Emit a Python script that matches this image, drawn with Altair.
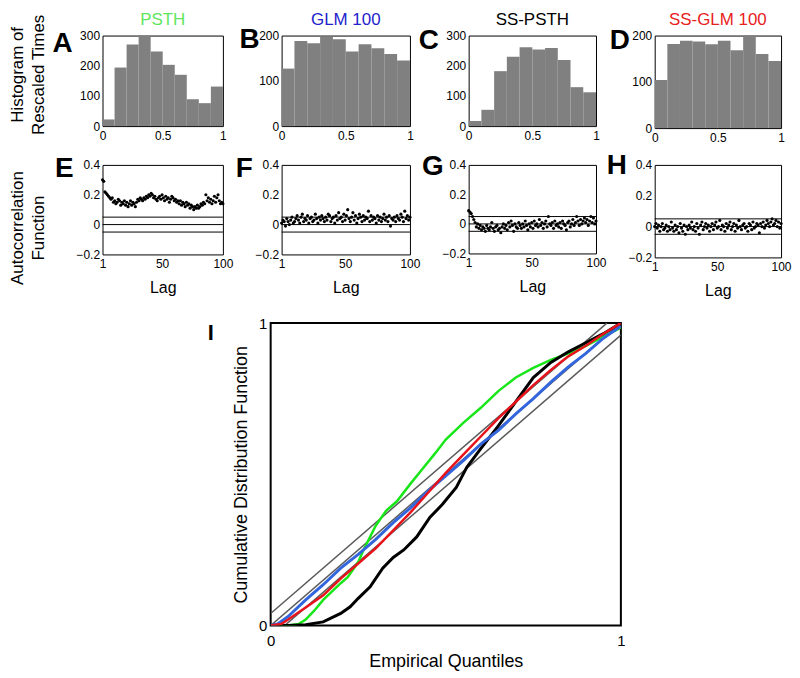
import altair as alt
import pandas as pd

FONT = "Liberation Sans"

# ---------------- data ----------------
bin_start = [0.0, 0.1, 0.2, 0.3, 0.4, 0.5, 0.6, 0.7, 0.8, 0.9]
bin_end = [0.1, 0.2, 0.3, 0.4, 0.5, 0.6, 0.7, 0.8, 0.9, 1.0]
hist_psth = [22, 194, 270, 300, 247, 203, 170, 89, 76, 131]
hist_glm100 = [127, 188, 183, 197, 192, 165, 181, 172, 159, 145]
hist_ss_psth = [17, 54, 182, 230, 261, 254, 259, 219, 129, 112]
hist_ss_glm100 = [104, 182, 189, 187, 181, 189, 168, 200, 160, 145]

lags = list(range(1, 101))
acf_psth = [0.30, 0.29, 0.22, 0.21, 0.20, 0.19, 0.18, 0.17, 0.18, 0.15,
            0.16, 0.14, 0.15, 0.17, 0.16, 0.13, 0.15, 0.14, 0.16, 0.13,
            0.15, 0.12, 0.14, 0.16, 0.13, 0.15, 0.14, 0.12, 0.15, 0.17,
            0.16, 0.18, 0.17, 0.16, 0.18, 0.17, 0.19, 0.18, 0.20, 0.19,
            0.21, 0.20, 0.18, 0.19, 0.17, 0.16, 0.18, 0.19, 0.17, 0.20,
            0.18, 0.16, 0.19, 0.17, 0.18, 0.15, 0.17, 0.19, 0.18, 0.16,
            0.17, 0.15, 0.16, 0.14, 0.16, 0.13, 0.15, 0.14, 0.12, 0.15,
            0.13, 0.14, 0.11, 0.13, 0.12, 0.10, 0.12, 0.11, 0.13, 0.11,
            0.12, 0.14, 0.13, 0.15, 0.14, 0.20, 0.16, 0.18, 0.15, 0.17,
            0.14, 0.16, 0.19, 0.15, 0.18, 0.20, 0.16, 0.14, 0.15, 0.14]
acf_glm100 = [0.01, 0.03, 0.02, -0.01, 0.04, 0.02, 0.00, 0.03, 0.05, 0.01,
              0.02, 0.04, 0.06, 0.03, 0.01, 0.05, 0.07, 0.02, 0.04, 0.03,
              0.06, 0.01, 0.04, 0.05, 0.02, 0.03, 0.07, 0.04, 0.01, 0.05,
              0.03, 0.06, 0.04, 0.02, 0.05, 0.03, 0.07, 0.06, 0.02, 0.04,
              0.05, 0.01, 0.06, 0.03, 0.08, 0.04, 0.05, 0.02, 0.07, 0.03,
              0.06, 0.10, 0.04, 0.02, 0.05, 0.08, 0.03, 0.06, 0.01, 0.04,
              0.07, 0.05, 0.02, 0.06, 0.03, 0.05, 0.04, 0.09, 0.02, 0.06,
              0.03, 0.05, 0.04, 0.01, 0.06, 0.03, 0.05, 0.02, 0.04, 0.07,
              0.03, 0.05, 0.02, 0.06, -0.01, 0.04, 0.03, 0.05, 0.02, 0.06,
              0.04, 0.03, 0.07, 0.05, 0.02, 0.09, 0.04, 0.06, 0.03, 0.05]
acf_ss_psth = [0.09, 0.08, 0.07, 0.05, 0.03, 0.01, -0.02, 0.00, -0.03, -0.01,
               -0.04, -0.02, -0.03, -0.05, -0.01, -0.03, -0.04, -0.02, 0.01, -0.03,
               -0.05, -0.02, -0.01, -0.04, -0.03, -0.06, -0.02, 0.00, -0.03, -0.01,
               -0.04, 0.01, -0.02, 0.02, -0.01, -0.05, 0.00, -0.02, -0.03, 0.01,
               -0.01, -0.03, 0.00, -0.02, 0.02, -0.01, -0.04, 0.00, -0.02, 0.01,
               -0.03, 0.02, -0.01, 0.00, -0.02, 0.03, -0.01, 0.01, -0.03, 0.00,
               0.02, -0.02, 0.05, 0.00, -0.01, 0.01, -0.03, 0.02, -0.01, 0.00,
               -0.02, 0.01, -0.03, 0.02, 0.00, -0.01, -0.04, 0.01, 0.02, -0.02,
               0.00, 0.03, -0.01, 0.01, 0.05, 0.02, -0.01, 0.03, 0.00, 0.02,
               0.04, 0.01, 0.03, -0.01, 0.02, 0.05, 0.01, 0.04, 0.00, 0.02]
acf_ss_glm100 = [0.00, 0.02, -0.01, 0.01, -0.03, 0.00, 0.02, -0.02, -0.01, 0.01,
                 -0.03, 0.00, -0.02, 0.03, -0.01, -0.03, 0.01, -0.02, 0.00, -0.04,
                 0.02, -0.01, -0.03, 0.01, -0.05, 0.00, -0.02, 0.01, -0.01, 0.03,
                 -0.02, 0.00, -0.03, 0.02, -0.01, -0.05, 0.01, 0.03, -0.02, 0.00,
                 0.02, -0.01, 0.01, -0.03, 0.00, 0.02, -0.02, 0.01, 0.03, -0.01,
                 0.00, 0.04, -0.02, 0.01, 0.00, -0.03, 0.02, -0.01, 0.01, 0.03,
                 -0.02, 0.00, 0.02, -0.03, 0.01, -0.01, 0.04, 0.00, -0.02, 0.01,
                 0.02, -0.01, 0.00, -0.03, 0.02, 0.01, -0.02, 0.03, -0.01, 0.00,
                 0.02, 0.01, -0.04, 0.02, 0.00, 0.03, -0.01, 0.01, 0.04, 0.02,
                 0.00, 0.03, 0.05, 0.01, 0.02, 0.04, 0.00, 0.03, -0.01, 0.02]
acf_bounds = [-0.05, 0.0, 0.05]

# KS plot: 95% bands and the four models
band_upper_x = [0.0, 0.96]
band_upper_y = [0.04, 1.0]
band_diag_x = [0.0, 1.0]
band_diag_y = [0.0, 1.0]
band_lower_x = [0.04, 1.0]
band_lower_y = [0.0, 0.96]

ks_x_psth = [0, 0.05, 0.08, 0.1, 0.125, 0.15, 0.2, 0.22, 0.25, 0.265, 0.3, 0.33, 0.36, 0.4,
             0.435, 0.47, 0.5, 0.55, 0.6, 0.65, 0.7, 0.75, 0.8, 0.85, 0.9, 0.95, 1.0]
ks_y_psth = [0, 0.0, 0.005, 0.02, 0.05, 0.085, 0.14, 0.16, 0.21, 0.25, 0.33, 0.38, 0.41, 0.47,
             0.52, 0.57, 0.615, 0.67, 0.72, 0.775, 0.82, 0.852, 0.878, 0.90, 0.925, 0.955, 0.985]
ks_x_ss_psth = [0, 0.05, 0.1, 0.15, 0.2, 0.227, 0.25, 0.284, 0.32, 0.35, 0.38, 0.417, 0.455,
                0.49, 0.53, 0.56, 0.6, 0.65, 0.7, 0.75, 0.8, 0.85, 0.9, 0.95, 1.0]
ks_y_ss_psth = [0, 0.0, 0.003, 0.012, 0.04, 0.062, 0.09, 0.128, 0.19, 0.225, 0.25, 0.293, 0.358,
                0.40, 0.457, 0.523, 0.585, 0.66, 0.74, 0.82, 0.87, 0.905, 0.935, 0.965, 1.0]
ks_x_glm100 = [0, 0.02, 0.05, 0.1, 0.15, 0.2, 0.25, 0.3, 0.35, 0.4, 0.45, 0.5, 0.55, 0.6,
               0.65, 0.7, 0.75, 0.8, 0.85, 0.9, 0.95, 1.0]
ks_y_glm100 = [0, 0.005, 0.03, 0.085, 0.135, 0.19, 0.235, 0.285, 0.34, 0.39, 0.445, 0.495,
               0.545, 0.6, 0.645, 0.70, 0.75, 0.805, 0.855, 0.9, 0.95, 0.99]
ks_x_ss_glm100 = [0, 0.03, 0.05, 0.1, 0.15, 0.2, 0.25, 0.3, 0.35, 0.4, 0.45, 0.5, 0.55, 0.6,
                  0.65, 0.7, 0.75, 0.8, 0.85, 0.9, 0.95, 1.0]
ks_y_ss_glm100 = [0, 0.005, 0.02, 0.06, 0.10, 0.155, 0.205, 0.255, 0.315, 0.375, 0.44, 0.505,
                  0.565, 0.625, 0.685, 0.74, 0.795, 0.845, 0.89, 0.925, 0.965, 1.0]

# ---------------- styles ----------------
GRAY = "#808080"
C_GREEN_T = "#5EE65E"
C_BLUE_T = "#2222CC"
C_RED_T = "#E82020"
C_GREEN = "#19E619"
C_BLUE = "#3366DD"
C_RED = "#E8141C"


def axis(**kw):
    base = dict(ticks=False, domain=False, grid=False, labelFont=FONT, labelColor="black",
                titleFont=FONT, titleColor="black", titleFontWeight="normal", labelFlush=False)
    base.update(kw)
    return alt.Axis(**base)


def text_layer(label, lx, ly, size, weight="bold", align="right", color="black"):
    return alt.Chart(pd.DataFrame({"t": [label]})).mark_text(
        font=FONT, fontSize=size, fontWeight=weight, align=align, baseline="alphabetic",
        color=color).encode(text="t:N", x=alt.value(lx), y=alt.value(ly))


def hist_panel(counts, ymax, yvals, title, tcolor, letter, lx, ly, w, h, ytitle=None):
    df = pd.DataFrame({"start": bin_start, "end": bin_end, "count": counts})
    ykw = dict(values=yvals, format="d", labelFontSize=12, labelPadding=3)
    if ytitle:
        ykw.update(titleFontSize=17, titleX=-76, titleY=39, titleAngle=270, titleAlign="center",
                   titleBaseline="bottom", titleLineHeight=21)
    bars = alt.Chart(df).mark_rect(color=GRAY).encode(
        x=alt.X("start:Q", scale=alt.Scale(domain=[0, 1], nice=False, zero=False),
                axis=axis(values=[0, 0.5, 1], format="~g", labelFontSize=12, labelPadding=4),
                title=None),
        x2="end:Q",
        y=alt.Y("count:Q", scale=alt.Scale(domain=[0, ymax], nice=False),
                axis=axis(**ykw), title=ytitle),
        y2=alt.datum(0),
    )
    return alt.layer(
        bars,
        text_layer(letter, lx, ly, 28),
        text_layer(title, w / 2, -11, 17, weight="normal", align="center", color=tcolor),
    ).properties(width=w, height=h)


def acf_panel(values, letter, lx, ly, w, h, ytitle=None):
    ykw = dict(values=[-0.2, 0, 0.2, 0.4], format="~g", labelFontSize=12, labelPadding=3)
    if ytitle:
        ykw.update(titleFontSize=17, titleX=-76, titleY=63, titleAngle=270, titleAlign="center",
                   titleBaseline="bottom", titleLineHeight=21)

    def yenc():
        return alt.Y("acf:Q", scale=alt.Scale(domain=[-0.2, 0.4], nice=False, zero=False),
                     axis=axis(**ykw), title=ytitle)

    def xenc():
        return alt.X("lag:Q", scale=alt.Scale(domain=[1, 100], nice=False, zero=False),
                     axis=axis(values=[1, 50, 100], labelFontSize=12, labelPadding=4,
                               titleFontSize=16, titlePadding=10), title="Lag")

    rules = alt.Chart(pd.DataFrame({"acf": acf_bounds})).mark_rule(
        color="black", strokeWidth=1).encode(y=yenc())
    pts = alt.Chart(pd.DataFrame({"lag": lags, "acf": values})).mark_circle(
        size=10, color="black", opacity=1).encode(x=xenc(), y=yenc())
    return alt.layer(rules, pts, text_layer(letter, lx, ly, 28)).properties(width=w, height=h)


def ks_panel():
    def xenc():
        return alt.X("q:Q", scale=alt.Scale(domain=[0, 1], nice=False, zero=False),
                     axis=axis(values=[0, 1], format="~g", labelFontSize=15, labelPadding=8,
                               titleFontSize=18, titlePadding=4),
                     title="Empirical Quantiles")

    def yenc():
        return alt.Y("cdf:Q", scale=alt.Scale(domain=[0, 1], nice=False, zero=False),
                     axis=axis(values=[0, 1], format="~g", labelFontSize=15, labelPadding=4,
                               titleFontSize=18, titlePadding=8),
                     title="Cumulative Distribution Function")

    def line(xs, ys, color, sw):
        return alt.Chart(pd.DataFrame({"q": xs, "cdf": ys})).mark_line(
            color=color, strokeWidth=sw, clip=True).encode(x=xenc(), y=yenc())

    layers = [
        line(band_upper_x, band_upper_y, "#5A5A5A", 1.5),
        line(band_diag_x, band_diag_y, "#5A5A5A", 1.5),
        line(band_lower_x, band_lower_y, "#5A5A5A", 1.5),
        line(ks_x_psth, ks_y_psth, C_GREEN, 2.5),
        line(ks_x_ss_psth, ks_y_ss_psth, "black", 3),
        line(ks_x_glm100, ks_y_glm100, C_BLUE, 3),
        line(ks_x_ss_glm100, ks_y_ss_glm100, C_RED, 2.5),
        text_layer("I", -57, 17, 22),
    ]
    return alt.layer(*layers).properties(
        width=352, height=304, view=alt.ViewBackground(stroke="black", strokeWidth=2))


row1 = alt.hconcat(
    hist_panel(hist_psth, 300, [0, 100, 200, 300], "PSTH", C_GREEN_T, "A", -30, 17, 121, 91,
               ytitle=["Histogram of", "Rescaled Times"]),
    hist_panel(hist_glm100, 200, [0, 100, 200], "GLM 100", C_BLUE_T, "B", -22, 13, 129, 91),
    hist_panel(hist_ss_psth, 300, [0, 100, 200, 300], "SS-PSTH", "black", "C", -30, 14, 128, 91),
    hist_panel(hist_ss_glm100, 200, [0, 100, 200], "SS-GLM 100", C_RED_T, "D", -25, 14, 127, 93),
    spacing=59, bounds="flush")

row2 = alt.hconcat(
    acf_panel(acf_psth, "E", -29, 12, 121, 90, ytitle=["Autocorrelation", "Function"]),
    acf_panel(acf_glm100, "F", -29, 12, 129, 90),
    acf_panel(acf_ss_psth, "G", -25, 10, 128, 89),
    acf_panel(acf_ss_glm100, "H", -28, 9, 127, 93),
    spacing=59, bounds="flush")

spacer = alt.Chart(pd.DataFrame({"v": [0]})).mark_point(opacity=0).properties(
    width=100, height=10, view=alt.ViewBackground(strokeOpacity=0))

row3 = alt.hconcat(spacer, ks_panel(), spacing=69, bounds="flush")

top = alt.vconcat(row1, row2, spacing=7)

chart = alt.vconcat(top, row3, spacing=16, padding=0).configure(
    font=FONT).configure_view(stroke="black", strokeWidth=1)

chart.save("out.html", embed_options={"renderer": "svg", "actions": False})
